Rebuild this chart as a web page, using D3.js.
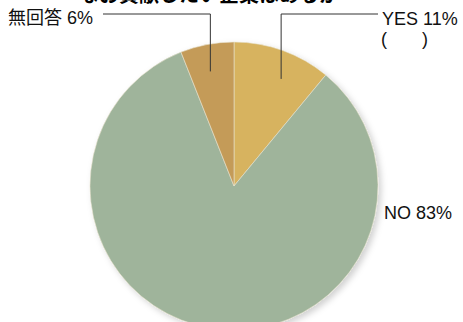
<!DOCTYPE html>
<html>
<head>
<meta charset="utf-8">
<script src="https://cdn.jsdelivr.net/npm/d3@7"></script>
<style>
    body { margin: 0; background: #fff; }
    svg { display: block; font-family: "Liberation Sans", "Noto Sans CJK JP", sans-serif; }
</style>
</head>
<body>
<div id="chart"></div>
<script>
    'use strict';

    /* data */

    var title = 'なお貢献したい企業はあるか';
    var categories = ['YES', 'NO', '無回答'];
    var shares = [11, 83, 6];
    var colors = ['#d7b35f', '#9fb49b', '#c49b59'];

    /* layout */

    var width = 463, height = 322;
    var cx = 234, cy = 186, radius = 144;

    var svg = d3.select('#chart').append('svg')
        .attr('width', width)
        .attr('height', height)
    ;

    // --- drop shadow
    var filter = svg.append('defs').append('filter')
        .attr('id', 'shadow')
        .attr('x', '-20%').attr('y', '-20%')
        .attr('width', '140%').attr('height', '140%')
    ;
    filter.append('feDropShadow')
        .attr('dx', 3).attr('dy', 3)
        .attr('stdDeviation', 3)
        .attr('flood-color', '#000')
        .attr('flood-opacity', 0.18)
    ;

    /* pie */

    var pie = d3.pie().sort(null).value(function (d) { return d; });
    var arcs = pie(shares);
    var arc = d3.arc().innerRadius(0).outerRadius(radius);

    var g = svg.append('g').attr('transform', 'translate(' + cx + ',' + cy + ')');

    g.append('g')
        .attr('filter', 'url(#shadow)')
        .selectAll('path')
        .data(arcs)
        .enter()
        .append('path')
        .attr('d', arc)
        .attr('fill', function (d, i) { return colors[i]; })
        .attr('stroke', '#e8e2cf')
        .attr('stroke-width', 0.6)
    ;

    /* title (cut by the top edge, as in the source) */

    svg.append('text')
        .attr('x', 209)
        .attr('y', 2)
        .attr('text-anchor', 'middle')
        .attr('font-family', '"Noto Sans CJK JP", sans-serif')
        .attr('font-weight', 'bold')
        .attr('font-size', 20)
        .text(title)
    ;

    /* labels with leaders */

    var lineY = 14, leaderR = 117;

    // point on slice where the leader starts (fraction of slice angle)
    function anchorPoint(d, frac) {
        var a = d.startAngle + (d.endAngle - d.startAngle) * frac;
        return [cx + leaderR * Math.sin(a), cy - leaderR * Math.cos(a)];
    }

    var yesPt = anchorPoint(arcs[0], 0.6);
    var naPt = anchorPoint(arcs[2], 0.46);

    var leaders = [
        [[yesPt[0], yesPt[1]], [yesPt[0], lineY], [378, lineY]],
        [[naPt[0], naPt[1]], [naPt[0], lineY], [103, lineY]]
    ];

    svg.selectAll('.leader')
        .data(leaders)
        .enter()
        .append('path')
        .attr('class', 'leader')
        .attr('d', d3.line())
        .attr('fill', 'none')
        .attr('stroke', '#333')
        .attr('stroke-width', 1)
    ;

    var labels = svg.append('g').attr('font-size', 18).attr('fill', '#111');

    labels.append('text')
        .attr('x', 382).attr('y', 25)
        .text(categories[0] + ' ' + shares[0] + '%');

    labels.append('text')
        .attr('x', 381).attr('y', 45)
        .style('white-space', 'pre')
        .text('(       )');

    labels.append('text')
        .attr('x', 384).attr('y', 219)
        .text(categories[1] + ' ' + shares[1] + '%');

    labels.append('text')
        .attr('x', 8).attr('y', 24)
        .text(categories[2] + ' ' + shares[2] + '%');
</script>
</body>
</html>
